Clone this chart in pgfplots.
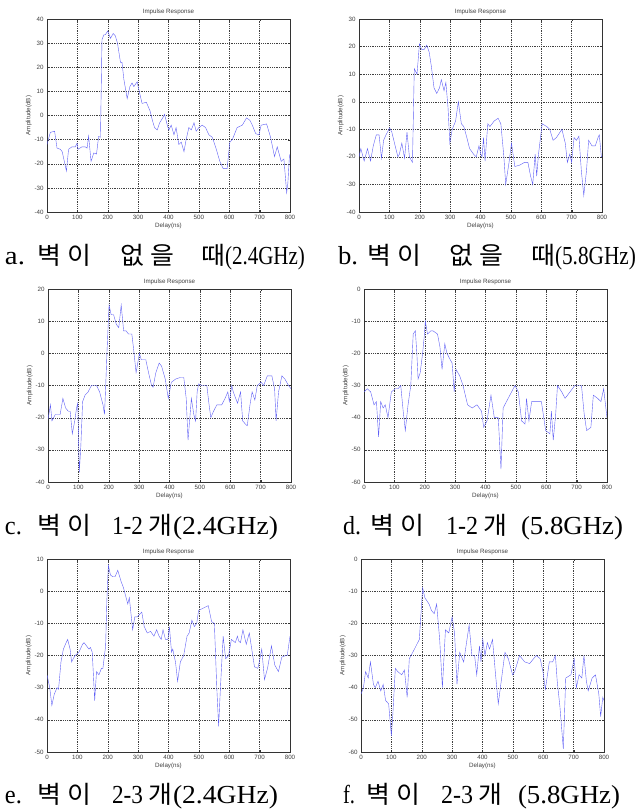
\documentclass[border=0pt]{standalone}
\usepackage{fontspec}
\setmainfont{Liberation Serif}
\setsansfont{Liberation Sans}
\newfontfamily\kr{Noto Sans CJK KR}
\newfontfamily\tk{Liberation Sans}
\newfontfamily\ser{Liberation Serif}
\usepackage{graphicx}
\usepackage{pgfplots}
\pgfplotsset{compat=1.18}
\definecolor{irblue}{RGB}{95,95,245}
\pgfplotsset{irstyle/.style={
  scale only axis, width=243pt, height=193pt,
  xmin=0, xmax=800, xtick={0,100,...,800},
  grid=major, grid style={dash pattern=on 0.6pt off 1.2pt, black!75, line width=0.35pt},
  axis line style={black!80, line width=0.5pt},
  tick align=inside, major tick length=2pt, tick style={black!80},
  /pgf/number format/assume math mode=true,
  ticklabel style={font=\tk\fontsize{6.2}{7}\selectfont, text=black!75},
  title={Impulse Response}, title style={font=\tk\fontsize{6.2}{7}\selectfont, text=black!75, yshift=-5pt},
  xlabel={Delay(ns)}, ylabel={Amplitude(dB)},
  label style={font=\tk\fontsize{6.2}{7}\selectfont, text=black!75},
  xlabel style={yshift=4pt}, ylabel style={yshift=-4pt},
  no markers,
  cycle list={{irblue, line width=0.65pt}},
}}
\begin{document}
\begin{tikzpicture}
\path[use as bounding box] (0,0) rectangle (638pt,-809pt);
% a
\begin{axis}[irstyle, at={(47pt,-212pt)}, anchor=south west, ymin=-40, ymax=40, ytick={-40,-30,...,40}]
\addplot table {
0 -12
11 -7
25 -6.5
33 -13.5
44 -14
50 -15
64 -23
71 -14
82 -13
93 -13
99 -11.5
102 -14
115 -13
126 -13
132 -13.5
137 -8.5
145 -19
154 -15.5
163 -16
170 -8.7
176 -9
181 31.4
187 33.4
192 33.5
200 35
209 32
218 34
225 33
232 30
242 22
247 22
253 15
264 7
273 12
280 13.5
286 12
297 14
300 12
313 5
327 5.5
339 2
347 -2
354 -5
363 -6
371 -3
381 -1
387 0.5
396 -4
401 -6
409 -4
418 -8
425 -5
434 -12
442 -11
451 -15
458 -10
467 -5
475 -6
484 -3
491 -6.5
500 -5
511 -4
522 -5
533 -8
544 -9
555 -13
569 -19
580 -22
593 -22
602 -11
610 -10
626 -5
643 -4
657 -1
668 -2
676 -4
687 -7.5
698 -8
705 -4
723 -3.5
736 -9
749 -17
758 -13
771 -19
780 -18
789 -32
793 -28
798 -17
800 -16
};
\end{axis}
% b
\begin{axis}[irstyle, at={(359pt,-212pt)}, anchor=south west, ymin=-40, ymax=30, ytick={-40,-30,...,30}]
\addplot table {
0 -20
6 -17
17 -21.5
28 -17
38 -21.5
47 -16
57 -12
66 -12
74 -20.5
81 -14
89 -12
101 -9.5
108 -11
119 -16
128 -20
133 -19
141 -15
150 -20.5
158 -11
166 -20
176 -22
182 12
191 10
199 21
206 19
215 19
223 20.5
231 18
238 13
247 5
256 3
265 5
271 8
280 4
286 7
293 -2
299 -15
307 -10
318 -7
327 0
337 -8
345 -9
355 -13
364 -17
377 -19
386 -20
395 -16
401 -19
405 -20
410 -13
415 -21.5
424 -8
431 -9
445 -7
458 -6
467 -8
477 -20
483 -30
494 -22
502 -15
513 -23.5
529 -23
545 -22
556 -22
565 -27
572 -30
580 -19
585 -27
591 -19
603 -8
618 -9
628 -10
639 -14
650 -13
668 -10
679 -15
686 -22
694 -19
700 -22
708 -13
716 -14
724 -12.5
732 -25
740 -34
749 -25
756 -14
767 -16
778 -16
787 -13
791 -12
798 -20
800 -20
};
\end{axis}
% c
\begin{axis}[irstyle, at={(48pt,-482pt)}, anchor=south west, ymin=-40, ymax=20, ytick={-40,-30,...,20}]
\addplot table {
0 -20.5
8 -16
13 -21
24 -19
40 -19
49 -14
58 -17
67 -18
73 -18
80 -25
88 -21
94 -17
98 -15.5
103 -37
108 -29
114 -15
122 -13
132 -12
143 -10
160 -10
170 -12
181 -16
186 -19
190 -10
194 0
201 15
208 12
216 12
225 9
233 8
241 15
249 7
257 7
265 6
276 6
281 2
290 -6
301 0
307 -2
322 -2
331 -6
341 -10
346 -10.5
355 -6
366 -3
374 -4
386 -8
396 -14
406 -9
420 -8
436 -7.5
447 -7.5
455 -14
461 -27
467 -20
472 -14
480 -19
486 -21
491 -12
496 -9.5
507 -10
523 -10
529 -15
536 -20
545 -18
556 -16
572 -16
583 -14
592 -12
597 -15
605 -10
610 -12
618 -14
624 -15.5
634 -12
641 -21
650 -22
656 -22.5
665 -16
672 -12
681 -14.5
689 -10
702 -9
710 -10
722 -7
737 -7
746 -11
751 -21
759 -12
770 -7
780 -8
792 -10
800 -11
};
\end{axis}
% d
\begin{axis}[irstyle, at={(364pt,-482pt)}, anchor=south west, ymin=-60, ymax=0, ytick={-60,-50,...,0}]
\addplot table {
0 -32
11 -31
22 -32
33 -36
41 -35
48 -46
55 -35
63 -37
70 -36
79 -40
90 -32
103 -31
112 -31
121 -30
129 -38
136 -44
145 -36
154 -30
162 -14
169 -13
174 -20
178 -28
185 -26
193 -20
198 -15
202 -10
209 -14
220 -13
227 -13
242 -14
250 -18
257 -25
266 -17
273 -20
284 -22
290 -23
297 -32
303 -25
315 -27
326 -30
341 -36
356 -37
372 -36
387 -38
394 -43
405 -41
418 -33
429 -40
442 -40
451 -56
458 -37
469 -35
497 -30
508 -32
519 -41
530 -42
535 -34
543 -41
552 -35
584 -35
598 -44
612 -45
617 -38
623 -47
631 -39
637 -30
651 -32
662 -34
678 -32
694 -30
716 -30
725 -39
733 -44
747 -43
755 -33
769 -34
780 -35
789 -31
800 -40
};
\end{axis}
% e
\begin{axis}[irstyle, at={(47pt,-752pt)}, anchor=south west, ymin=-50, ymax=10, ytick={-50,-40,...,10}]
\addplot table {
0 -26
9 -30
16 -35.5
24 -32
33 -30
38 -30.5
46 -22
54 -18
63 -16
68 -15
76 -18
81 -22
92 -20
105 -19
117 -16.5
122 -16
130 -17
138 -18
143 -17.5
149 -19
157 -34
163 -25
171 -26
179 -24
184 -24
193 -17
197 -3
202 8
209 5
217 4.5
224 4.5
233 6.5
244 3
252 1
266 -4
271 -2
282 -12
289 -8
297 -8
312 -6.5
320 -11
330 -13
341 -12.5
352 -14
361 -12
369 -14
376 -15
382 -12
390 -15
398 -15
403 -11
410 -19
414 -18
423 -22
430 -28
439 -22
450 -20
461 -14
468 -13
477 -9
485 -11
493 -10
499 -6
520 -5
531 -4.5
542 -9.5
551 -10
559 -30
565 -42
571 -30
580 -14
588 -21
598 -20
607 -15
620 -16
627 -14
631 -15.5
637 -16
645 -12
656 -16.5
666 -13
683 -23.5
694 -24
699 -22
707 -18
716 -27.5
726 -24
739 -17
750 -23
762 -25
773 -20.5
786 -20
791 -20
800 -14
};
\end{axis}
% f
\begin{axis}[irstyle, at={(361pt,-752pt)}, anchor=south west, ymin=-60, ymax=0, ytick={-60,-50,...,0}]
\addplot table {
0 -42
8 -40
15 -35
24 -37
31 -32
41 -39
47 -40
56 -38
65 -41
73 -39
81 -44
91 -45
100 -55
105 -48
113 -34
121 -35
134 -36
143 -34.5
152 -43
159 -31
176 -28
192 -25
203 -9
210 -12
224 -14
232 -16
241 -17
249 -14
259 -25
268 -40
278 -22
289 -23
300 -18
308 -23
316 -39
325 -29
338 -32
356 -20.5
365 -30
374 -30
381 -36
390 -27
395 -32
401 -25
408 -30
416 -26
423 -28
433 -25
443 -36
452 -45
463 -37
474 -29
485 -31
499 -36
506 -35
522 -30
539 -32
555 -32.5
577 -30
590 -31
599 -35
607 -40.5
620 -32
631 -32
640 -30
646 -38
655 -46
666 -59
674 -37
691 -36
702 -31
709 -40
718 -36
727 -37
734 -30
742 -38
748 -41
761 -37
772 -36
783 -42
789 -49
796 -43
800 -44
};
\end{axis}
% captions
\def\L{\ser\fontsize{26}{28}\selectfont}
\def\K#1{\makebox[30pt][l]{\kr\fontsize{24.5}{26}\selectfont\scalebox{1.06}[1]{#1}}}
\def\W#1#2{\resizebox{#1}{\height}{\L #2}}
\tikzset{capn/.style={anchor=base west, inner sep=0pt, outer sep=0pt}}
% a
\node[capn] at (5pt,-264pt) {\W{20pt}{a.}};
\node[capn] at (37pt,-264pt) {\K{벽}\K{이}};
\node[capn] at (120pt,-264pt) {\K{없}\K{을}};
\node[capn] at (201pt,-264pt) {\K{때}};
\node[capn] at (225pt,-264pt) {\W{80pt}{(2.4GHz)}};
% b
\node[capn] at (338pt,-264pt) {\W{20pt}{b.}};
\node[capn] at (367pt,-264pt) {\K{벽}\K{이}};
\node[capn] at (449pt,-264pt) {\K{없}\K{을}};
\node[capn] at (531pt,-264pt) {\K{때}};
\node[capn] at (555pt,-264pt) {\W{81pt}{(5.8GHz)}};
% c
\node[capn] at (5pt,-534pt) {\W{17pt}{c.}};
\node[capn] at (37pt,-534pt) {\K{벽}\K{이}};
\node[capn] at (112pt,-534pt) {\W{31pt}{1-2}};
\node[capn] at (148pt,-534pt) {\K{개}};
\node[capn] at (173pt,-534pt) {\W{105pt}{(2.4GHz)}};
% d
\node[capn] at (343pt,-534pt) {\W{18pt}{d.}};
\node[capn] at (370pt,-534pt) {\K{벽}\K{이}};
\node[capn] at (446pt,-534pt) {\W{32pt}{1-2}};
\node[capn] at (483pt,-534pt) {\K{개}};
\node[capn] at (521pt,-534pt) {\W{102pt}{(5.8GHz)}};
% e
\node[capn] at (5pt,-803pt) {\W{17pt}{e.}};
\node[capn] at (37pt,-803pt) {\K{벽}\K{이}};
\node[capn] at (112pt,-803pt) {\W{31pt}{2-3}};
\node[capn] at (148pt,-803pt) {\K{개}};
\node[capn] at (173pt,-803pt) {\W{105pt}{(2.4GHz)}};
% f
\node[capn] at (343pt,-803pt) {\W{12pt}{f.}};
\node[capn] at (366pt,-803pt) {\K{벽}\K{이}};
\node[capn] at (441pt,-803pt) {\W{32pt}{2-3}};
\node[capn] at (478pt,-803pt) {\K{개}};
\node[capn] at (518pt,-803pt) {\W{102pt}{(5.8GHz)}};
\end{tikzpicture}
\end{document}
